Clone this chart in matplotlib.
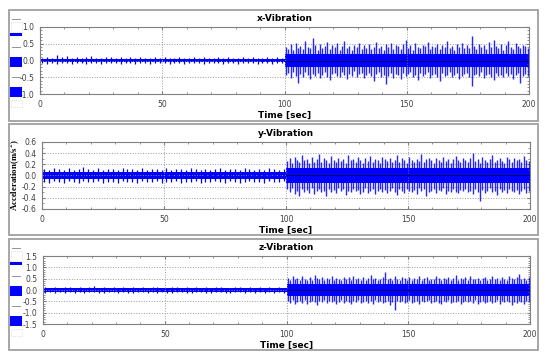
import matplotlib.pyplot as plt
import numpy as np
from matplotlib.patches import Rectangle
from matplotlib.lines import Line2D

# ---- data (peak envelopes of the vibration signals) ----
# quiet part: 2-sec bins, t = 1..99
t_quiet = np.arange(1, 100, 2)
# loud part: 1-sec bins, t = 100.5..199.5
t_loud = np.arange(100.5, 200, 1.0)

x_quiet_up = [0.08, 0.11, 0.07, 0.15, 0.09, 0.13, 0.08, 0.10, 0.07, 0.09,
              0.12, 0.08, 0.07, 0.10, 0.09, 0.08, 0.11, 0.07, 0.09, 0.08,
              0.10, 0.07, 0.08, 0.09, 0.07, 0.10, 0.08, 0.07, 0.09, 0.08,
              0.07, 0.10, 0.08, 0.09, 0.07, 0.08, 0.11, 0.07, 0.09, 0.08,
              0.07, 0.09, 0.08, 0.10, 0.07, 0.08, 0.09, 0.07, 0.10, 0.08]
x_quiet_lo = [-0.07, -0.09, -0.08, -0.10, -0.07, -0.08, -0.09, -0.07, -0.08, -0.10,
              -0.07, -0.08, -0.09, -0.07, -0.08, -0.07, -0.09, -0.08, -0.07, -0.10,
              -0.08, -0.07, -0.09, -0.08, -0.07, -0.08, -0.10, -0.07, -0.08, -0.09,
              -0.07, -0.08, -0.07, -0.09, -0.08, -0.07, -0.08, -0.10, -0.07, -0.08,
              -0.09, -0.07, -0.08, -0.07, -0.09, -0.08, -0.07, -0.10, -0.08, -0.07]
x_loud_up = [0.41, 0.35, 0.48, 0.30, 0.52, 0.38, 0.44, 0.33, 0.57, 0.40,
             0.36, 0.67, 0.45, 0.31, 0.49, 0.37, 0.42, 0.55, 0.34, 0.46,
             0.39, 0.51, 0.32, 0.44, 0.58, 0.36, 0.43, 0.30, 0.47, 0.40,
             0.53, 0.35, 0.45, 0.38, 0.50, 0.33, 0.41, 0.56, 0.37, 0.44,
             0.31, 0.48, 0.39, 0.52, 0.35, 0.46, 0.42, 0.34, 0.49, 0.60,
             0.38, 0.45, 0.32, 0.51, 0.40, 0.36, 0.47, 0.43, 0.55, 0.33,
             0.44, 0.39, 0.50, 0.35, 0.46, 0.41, 0.57, 0.37, 0.43, 0.31,
             0.48, 0.40, 0.53, 0.36, 0.45, 0.38, 0.72, 0.44, 0.34, 0.50,
             0.41, 0.47, 0.35, 0.54, 0.39, 0.62, 0.43, 0.37, 0.49, 0.32,
             0.46, 0.58, 0.40, 0.35, 0.51, 0.44, 0.38, 0.47, 0.42, 0.36]
x_loud_lo = [-0.43, -0.38, -0.51, -0.35, -0.46, -0.67, -0.40, -0.49, -0.33, -0.44,
             -0.55, -0.39, -0.47, -0.36, -0.52, -0.42, -0.34, -0.48, -0.58, -0.41,
             -0.37, -0.45, -0.50, -0.35, -0.43, -0.54, -0.39, -0.46, -0.32, -0.49,
             -0.41, -0.36, -0.53, -0.44, -0.38, -0.47, -0.62, -0.40, -0.35, -0.48,
             -0.42, -0.70, -0.45, -0.37, -0.51, -0.39, -0.44, -0.56, -0.36, -0.47,
             -0.40, -0.33, -0.49, -0.43, -0.57, -0.38, -0.46, -0.41, -0.35, -0.52,
             -0.44, -0.39, -0.48, -0.60, -0.37, -0.45, -0.42, -0.34, -0.50, -0.43,
             -0.38, -0.55, -0.46, -0.40, -0.36, -0.49, -0.76, -0.44, -0.41, -0.47,
             -0.35, -0.52, -0.43, -0.39, -0.48, -0.58, -0.37, -0.45, -0.42, -0.50,
             -0.36, -0.46, -0.40, -0.54, -0.44, -0.38, -0.67, -0.47, -0.41, -0.45]
x_core = [0.04, 0.20]

y_quiet_up = [0.12, 0.10, 0.14, 0.11, 0.09, 0.13, 0.10, 0.12, 0.15, 0.11,
              0.10, 0.13, 0.09, 0.12, 0.11, 0.10, 0.14, 0.11, 0.12, 0.09,
              0.13, 0.10, 0.11, 0.12, 0.10, 0.14, 0.09, 0.11, 0.12, 0.10,
              0.13, 0.11, 0.10, 0.12, 0.09, 0.11, 0.13, 0.10, 0.12, 0.11,
              0.10, 0.14, 0.11, 0.09, 0.12, 0.10, 0.13, 0.11, 0.10, 0.12]
y_quiet_lo = [-0.11, -0.13, -0.10, -0.12, -0.14, -0.10, -0.11, -0.13, -0.09, -0.12,
              -0.11, -0.10, -0.13, -0.11, -0.12, -0.14, -0.10, -0.12, -0.11, -0.13,
              -0.10, -0.12, -0.11, -0.09, -0.13, -0.11, -0.12, -0.10, -0.14, -0.11,
              -0.12, -0.10, -0.13, -0.11, -0.12, -0.10, -0.11, -0.13, -0.10, -0.12,
              -0.14, -0.11, -0.10, -0.12, -0.11, -0.13, -0.10, -0.12, -0.11, -0.10]
y_loud_up = [0.26, 0.31, 0.22, 0.34, 0.28, 0.24, 0.36, 0.27, 0.30, 0.23,
             0.33, 0.25, 0.29, 0.38, 0.24, 0.31, 0.27, 0.22, 0.35, 0.28,
             0.25, 0.32, 0.26, 0.30, 0.23, 0.37, 0.27, 0.29, 0.24, 0.33,
             0.28, 0.22, 0.31, 0.26, 0.35, 0.25, 0.30, 0.27, 0.23, 0.34,
             0.29, 0.26, 0.32, 0.24, 0.28, 0.36, 0.25, 0.31, 0.27, 0.22,
             0.33, 0.28, 0.25, 0.30, 0.26, 0.38, 0.24, 0.29, 0.32, 0.27,
             0.23, 0.31, 0.28, 0.25, 0.34, 0.26, 0.30, 0.22, 0.29, 0.35,
             0.27, 0.24, 0.32, 0.28, 0.25, 0.31, 0.40, 0.26, 0.29, 0.23,
             0.33, 0.27, 0.25, 0.30, 0.36, 0.24, 0.28, 0.31, 0.26, 0.22,
             0.34, 0.29, 0.25, 0.32, 0.27, 0.30, 0.24, 0.35, 0.28, 0.26]
y_loud_lo = [-0.25, -0.30, -0.23, -0.33, -0.27, -0.36, -0.24, -0.29, -0.26, -0.31,
             -0.22, -0.34, -0.28, -0.25, -0.30, -0.27, -0.37, -0.24, -0.29, -0.26,
             -0.32, -0.23, -0.28, -0.25, -0.35, -0.27, -0.30, -0.24, -0.28, -0.26,
             -0.33, -0.29, -0.22, -0.31, -0.27, -0.25, -0.34, -0.28, -0.24, -0.30,
             -0.26, -0.32, -0.27, -0.23, -0.29, -0.35, -0.25, -0.28, -0.31, -0.24,
             -0.27, -0.30, -0.26, -0.33, -0.23, -0.28, -0.25, -0.36, -0.29, -0.27,
             -0.24, -0.31, -0.26, -0.28, -0.22, -0.34, -0.27, -0.30, -0.25, -0.29,
             -0.32, -0.26, -0.28, -0.24, -0.30, -0.27, -0.33, -0.25, -0.29, -0.45,
             -0.26, -0.31, -0.28, -0.23, -0.30, -0.27, -0.35, -0.25, -0.29, -0.26,
             -0.32, -0.24, -0.28, -0.30, -0.26, -0.33, -0.27, -0.25, -0.31, -0.28]
y_core = [0.06, 0.13]

z_quiet_up = [0.13, 0.11, 0.15, 0.10, 0.12, 0.14, 0.11, 0.13, 0.10, 0.12,
              0.16, 0.11, 0.12, 0.10, 0.13, 0.11, 0.14, 0.10, 0.12, 0.11,
              0.13, 0.10, 0.12, 0.15, 0.11, 0.10, 0.13, 0.12, 0.11, 0.14,
              0.10, 0.12, 0.11, 0.13, 0.10, 0.12, 0.14, 0.11, 0.10, 0.13,
              0.12, 0.11, 0.15, 0.10, 0.12, 0.11, 0.13, 0.10, 0.12, 0.11]
z_quiet_lo = [-0.12, -0.10, -0.13, -0.11, -0.14, -0.10, -0.12, -0.11, -0.13, -0.10,
              -0.11, -0.14, -0.12, -0.10, -0.11, -0.13, -0.10, -0.12, -0.15, -0.11,
              -0.10, -0.12, -0.11, -0.13, -0.10, -0.12, -0.14, -0.11, -0.10, -0.12,
              -0.13, -0.11, -0.10, -0.12, -0.14, -0.11, -0.10, -0.13, -0.12, -0.11,
              -0.10, -0.13, -0.11, -0.12, -0.10, -0.14, -0.11, -0.12, -0.10, -0.13]
z_loud_up = [0.52, 0.45, 0.60, 0.48, 0.55, 0.42, 0.63, 0.50, 0.46, 0.57,
             0.44, 0.66, 0.51, 0.47, 0.58, 0.43, 0.54, 0.49, 0.61, 0.45,
             0.53, 0.48, 0.42, 0.59, 0.50, 0.56, 0.44, 0.62, 0.47, 0.52,
             0.46, 0.57, 0.43, 0.51, 0.64, 0.48, 0.55, 0.45, 0.50, 0.58,
             0.80, 0.47, 0.53, 0.44, 0.60, 0.49, 0.42, 0.56, 0.51, 0.46,
             0.59, 0.43, 0.54, 0.48, 0.62, 0.45, 0.52, 0.57, 0.44, 0.50,
             0.47, 0.61, 0.53, 0.42, 0.55, 0.49, 0.58, 0.45, 0.51, 0.64,
             0.46, 0.53, 0.48, 0.57, 0.43, 0.60, 0.50, 0.47, 0.55, 0.44,
             0.52, 0.59, 0.46, 0.50, 0.63, 0.48, 0.54, 0.42, 0.57, 0.49,
             0.45, 0.61, 0.52, 0.47, 0.56, 0.72, 0.50, 0.55, 0.46, 0.58]
z_loud_lo = [-0.50, -0.58, -0.46, -0.62, -0.53, -0.48, -0.56, -0.44, -0.60, -0.51,
             -0.47, -0.55, -0.65, -0.49, -0.53, -0.45, -0.59, -0.50, -0.54, -0.47,
             -0.61, -0.52, -0.46, -0.57, -0.49, -0.55, -0.63, -0.48, -0.52, -0.45,
             -0.58, -0.51, -0.47, -0.56, -0.50, -0.60, -0.46, -0.54, -0.49, -0.57,
             -0.52, -0.48, -0.64, -0.53, -0.88, -0.50, -0.55, -0.47, -0.59, -0.51,
             -0.46, -0.57, -0.52, -0.49, -0.61, -0.48, -0.54, -0.50, -0.45, -0.58,
             -0.53, -0.47, -0.56, -0.62, -0.49, -0.52, -0.46, -0.59, -0.51, -0.55,
             -0.48, -0.60, -0.53, -0.47, -0.54, -0.50, -0.57, -0.45, -0.63, -0.52,
             -0.49, -0.56, -0.51, -0.47, -0.58, -0.53, -0.46, -0.61, -0.50, -0.55,
             -0.48, -0.54, -0.66, -0.51, -0.57, -0.49, -0.53, -0.60, -0.47, -0.52]
z_core = [0.08, 0.28]

titles = ['x-Vibration', 'y-Vibration', 'z-Vibration']
ylims = [1.0, 0.6, 1.5]
ysteps = [0.5, 0.2, 0.5]
yminor = [0.1, 0.1, 0.1]
x_ticks = [0, 50, 100, 150, 200]

W, H = 550, 364


def fx(x):
    return x / W


def fy(y):
    return 1 - y / H


fig = plt.figure(figsize=(W / 100, H / 100), dpi=100)

# panel frames (pixel boxes)
boxes = [(9, 10, 538, 121), (9, 124, 538, 235), (9, 239, 538, 350)]
for x0, y0, x1, y1 in boxes:
    fig.add_artist(Rectangle((fx(x0), fy(y1)), fx(x1 - x0), (y1 - y0) / H,
                             fill=False, ec='#a6a6a6', lw=1.4))

# axes placement in pixels: left, top, right, bottom
ax_px = [(40, 27, 529, 94), (42, 142, 530, 209), (43, 256, 530, 324)]

series = [
    (x_quiet_up, x_quiet_lo, x_loud_up, x_loud_lo, x_core),
    (y_quiet_up, y_quiet_lo, y_loud_up, y_loud_lo, y_core),
    (z_quiet_up, z_quiet_lo, z_loud_up, z_loud_lo, z_core),
]

blue = '#0000ff'

for i in range(3):
    l, t, r, b = ax_px[i]
    ax = fig.add_axes([fx(l), fy(b), fx(r - l), (b - t) / H])
    qu, ql, lu, ll, core = series[i]

    # dense core of the signal
    ax.fill_between([0, 100], -core[0], core[0], color=blue, lw=0)
    ax.fill_between([100, 200], -core[1], core[1], color=blue, lw=0)
    # peaks
    ax.vlines(t_quiet, ql, qu, color=blue, lw=0.9)
    ax.vlines(t_loud, ll, lu, color=blue, lw=1.0, alpha=0.85)
    ax.plot([100, 200], [0, 0], color='#000060', lw=0.7)

    ax.set_xlim(0, 200)
    ax.set_ylim(-ylims[i], ylims[i])
    ax.set_xticks(x_ticks)
    ax.set_xticks(np.arange(0, 201, 10), minor=True)
    yt = np.round(np.arange(-ylims[i], ylims[i] + 1e-9, ysteps[i]), 2)
    ax.set_yticks(yt)
    ax.set_yticks(np.arange(-ylims[i], ylims[i] + 1e-9, yminor[i]), minor=True)
    ax.set_yticklabels(['%.1f' % v for v in yt])
    ax.grid(True, which='major', ls=':', color='#9a9a9a', lw=0.7)
    ax.tick_params(which='both', direction='in', top=True, right=True,
                   colors='#808080', labelcolor='#404040', labelsize=5.5, pad=4)
    ax.tick_params(which='major', length=2.5)
    ax.tick_params(which='minor', length=1.5)
    for s in ax.spines.values():
        s.set_color('#808080')
        s.set_linewidth(0.8)
    ax.set_title(titles[i], fontsize=6.5, fontweight='bold', pad=4)
    ax.set_xlabel('Time [sec]', fontsize=6.5, fontweight='bold', labelpad=2)
    if i == 1:
        ax.set_ylabel('Acceleration(m/s$^2$)', fontsize=6.3, fontweight='bold',
                      family='Liberation Serif', labelpad=0)

# small toolbar-like glyphs at the left of panels 1 and 3
for top in [19, 248]:
    for dy in [0, 28, 58]:
        fig.add_artist(Line2D([fx(12), fx(20)], [fy(top + dy), fy(top + dy)],
                              color='#808080', lw=0.6))
    fig.add_artist(Rectangle((fx(11), fy(top + 13)), fx(11), 10 / H, fill=False,
                             ec='#c8c8c8', lw=0.5, ls=':'))
    fig.add_artist(Rectangle((fx(10), fy(top + 17)), fx(12), 3 / H, color=blue, lw=0))
    fig.add_artist(Rectangle((fx(10), fy(top + 48)), fx(12), 10 / H, color=blue, lw=0))
    fig.add_artist(Rectangle((fx(10), fy(top + 78)), fx(12), 10 / H, color=blue, lw=0))
    fig.add_artist(Rectangle((fx(11), fy(top + 88)), fx(11), 7 / H, fill=False,
                             ec='#c8c8c8', lw=0.5, ls=':'))

fig.savefig('out.png', dpi=100)
